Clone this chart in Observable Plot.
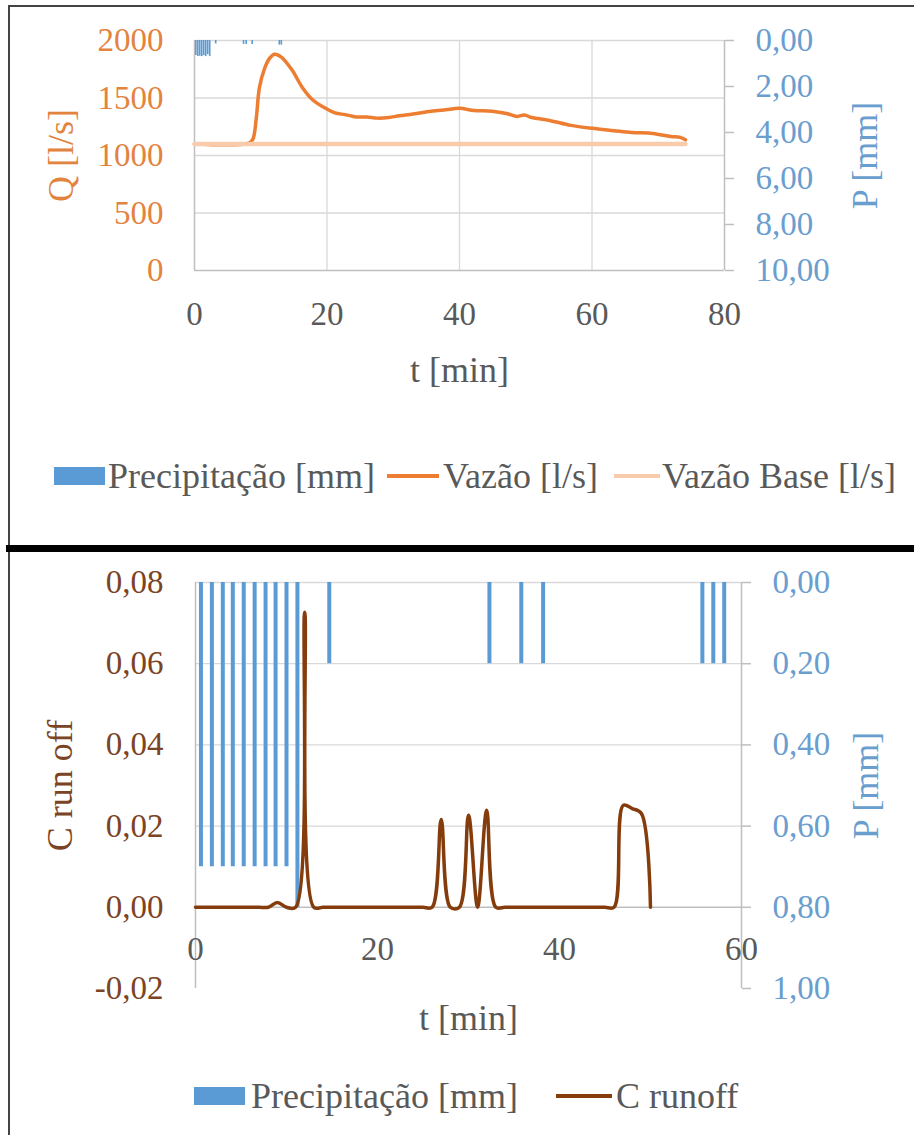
<!DOCTYPE html>
<html>
<head>
<meta charset="utf-8">
<script src="https://cdn.jsdelivr.net/npm/d3@7"></script>
<script src="https://cdn.jsdelivr.net/npm/@observablehq/plot@0.6"></script>
<style>
  body { margin: 0; background: #fff; }
  #wrap { position: relative; width: 914px; height: 1135px; overflow: hidden; background: #fff; font-family: "Liberation Serif", "DejaVu Serif", "Noto Serif", serif; }
  .abs { position: absolute; }
  .leg { position: absolute; height: 40px; display: flex; align-items: center; font-size: 36px; color: #595959; white-space: nowrap; }
  .sw { position: absolute; }
</style>
</head>
<body>
<div id="wrap"></div>
<script>
// ---------- DATA ----------
// Top chart: precipitation bars (t [min], P [mm])
const topPrecipT  = [0.2, 0.5, 0.8, 1.1, 1.4, 1.7, 2.0, 2.3, 3.2, 7.4, 7.8, 8.7, 12.8, 13.1];
const topPrecipMm = [0.65, 0.7, 0.68, 0.7, 0.66, 0.7, 0.62, 0.7, 0.15, 0.17, 0.17, 0.17, 0.2, 0.2];
// Top chart: discharge
const vazaoT = [0, 8.2, 8.8, 9.3, 9.8, 10.6, 11.4, 12.1, 13.1, 14.7, 16.3, 17.9, 19.5, 21.2, 22.8, 24.4, 26.0, 27.6, 29.3, 30.9, 33.0, 35.7, 37.9, 40.0, 42.2, 44.9, 47.1, 48.7, 49.8, 50.9, 53.6, 56.8, 60.0, 63.3, 66.0, 69.2, 71.9, 73.3, 74.1];
const vazaoQ = [1100, 1108, 1140, 1310, 1590, 1760, 1850, 1880, 1855, 1745, 1590, 1480, 1420, 1370, 1355, 1335, 1335, 1325, 1330, 1345, 1360, 1385, 1398, 1410, 1392, 1385, 1365, 1340, 1352, 1330, 1305, 1262, 1236, 1216, 1200, 1192, 1165, 1158, 1136];
// Top chart: base discharge
const baseT = [0, 74.1];
const baseQ = [1100, 1100];
// Top chart ticks
const topXTicks = [0, 20, 40, 60, 80];
const topQTicks = [0, 500, 1000, 1500, 2000];
const topPTicks = [0, 2, 4, 6, 8, 10];

// Bottom chart: precipitation bars
const botPrecipT  = [0.6, 1.8, 3.0, 4.1, 5.3, 6.5, 7.7, 8.8, 10.0, 11.2, 14.7, 32.3, 35.8, 38.2, 55.7, 56.9, 58.1];
const botPrecipMm = [0.7, 0.7, 0.7, 0.7, 0.7, 0.7, 0.7, 0.7, 0.7, 0.8, 0.2, 0.2, 0.2, 0.2, 0.2, 0.2, 0.2];
// Bottom chart: runoff coefficient
const runoffT = [0,1,2,3,4,5,6,7,8,9,10,11,12,13,14,15,16,17,18,19,20,21,22,23,24,25,26,27,28,29,30,31,32,33,34,35,36,37,38,39,40,41,42,43,44,45,46,47,48,49,50];
const runoffC = [0,0,0,0,0,0,0,0,0,0.0012,0,0,0.0727,0,0,0,0,0,0,0,0,0,0,0,0,0,0,0.0216,0,0,0.0227,0,0.0239,0,0,0,0,0,0,0,0,0,0,0,0,0,0,0.0251,0.0243,0.0231,0];
// Bottom chart ticks
const botXTicks = [0, 20, 40, 60];
const botCTicks = [-0.02, 0, 0.02, 0.04, 0.06, 0.08];
const botPTicks = [0, 0.2, 0.4, 0.6, 0.8, 1.0];

// ---------- HELPERS ----------
const FONT = '"Liberation Serif", "DejaVu Serif", "Noto Serif", serif';
const fmt2 = v => (Math.abs(v) < 1e-9 ? 0 : v).toFixed(2).replace(".", ",");
const zip = (a, b, ka, kb) => a.map((v, i) => ({[ka]: v, [kb]: b[i]}));

const topPrecip = zip(topPrecipT, topPrecipMm, "t", "p");
const vazao = zip(vazaoT, vazaoQ, "t", "q");
const base = zip(baseT, baseQ, "t", "q");
const botPrecip = zip(botPrecipT, botPrecipMm, "t", "p");
const runoff = zip(runoffT, runoffC, "t", "c");

// secondary axes mapped onto primary
const pToQ = p => 2000 - 200 * p;
const qToP = q => (2000 - q) / 200;
const pToC = p => 0.08 - 0.1 * p;
const cToP = c => (0.08 - c) / 0.1;

const GRID = "#d9d9d9", AXIS = "#bfbfbf", TXT = "#595959";
const ORANGE = "#ED7D31", PEACH = "#F8CBAD", BLUE = "#5B9BD5", BROWN = "#843C0C";
const ORANGE_TXT = "#E2843F", BLUE_TXT = "#6A9ECF", BROWN_TXT = "#7B4424";

const wrap = document.getElementById("wrap");
function addDiv(cls, style, html) {
  const d = document.createElement("div");
  d.className = cls;
  Object.assign(d.style, style);
  if (html != null) d.innerHTML = html;
  wrap.appendChild(d);
  return d;
}

// ---------- FRAMES ----------
addDiv("abs", {left: "8px", top: "5px", width: "906px", height: "1.5px", background: "#444"});
addDiv("abs", {left: "8px", top: "5px", width: "1.5px", height: "541px", background: "#444"});
addDiv("abs", {left: "6px", top: "545px", width: "908px", height: "7px", background: "#000"});
addDiv("abs", {left: "8px", top: "552px", width: "1.5px", height: "583px", background: "#444"});

// ---------- TOP CHART ----------
const topPlot = Plot.plot({
  width: 914,
  height: 400,
  marginLeft: 194,
  marginRight: 190,
  marginTop: 40,
  marginBottom: 130,
  style: {fontFamily: FONT, fontSize: "33px", color: TXT, background: "transparent", overflow: "visible"},
  x: {domain: [0, 80], axis: null},
  y: {domain: [0, 2000], axis: null},
  marks: [
    Plot.gridX([20, 40, 60], {stroke: GRID, strokeOpacity: 1, strokeWidth: 1.3}),
    Plot.gridY([500, 1000, 1500, 2000], {stroke: GRID, strokeOpacity: 1, strokeWidth: 1.3}),
    Plot.ruleY([0], {stroke: AXIS, strokeWidth: 1.5}),
    Plot.ruleX([0], {stroke: AXIS, strokeWidth: 1.5}),
    Plot.ruleX([80], {stroke: AXIS, strokeWidth: 1.5}),
    Plot.ruleX(topPrecip, {x: "t", y1: () => pToQ(0), y2: d => pToQ(d.p), stroke: BLUE, strokeWidth: 1.6}),
    Plot.line(vazao, {x: "t", y: "q", stroke: ORANGE, strokeWidth: 3.5, curve: "catmull-rom"}),
    Plot.line(base, {x: "t", y: "q", stroke: PEACH, strokeWidth: 4.5}),
    Plot.axisY(topQTicks, {anchor: "left", tickSize: 0, tickPadding: 31, fill: ORANGE_TXT, tickFormat: d => String(d), label: null}),
    Plot.axisY(topPTicks.map(pToQ), {anchor: "right", tickSize: 9, tickPadding: 22, stroke: AXIS, strokeWidth: 1.5, fill: BLUE_TXT, tickFormat: q => fmt2(qToP(q)), label: null}),
    Plot.axisX(topXTicks, {anchor: "bottom", tickSize: 0, tickPadding: 31, fill: TXT, tickFormat: d => String(d), label: null}),
    Plot.text(["t [min]"], {frameAnchor: "bottom", dy: 100, fontSize: 36, fill: TXT, lineAnchor: "middle"}),
    Plot.text(["Q [l/s]"], {frameAnchor: "left", dx: -133, rotate: -90, fontSize: 36, fill: ORANGE_TXT, lineAnchor: "middle", textAnchor: "middle"}),
    Plot.text(["P [mm]"], {frameAnchor: "right", dx: 141, rotate: -90, fontSize: 36, fill: BLUE_TXT, lineAnchor: "middle", textAnchor: "middle"})
  ]
});
topPlot.style.position = "absolute";
topPlot.style.left = "0px";
topPlot.style.top = "0px";
wrap.appendChild(topPlot);

// top legend
addDiv("sw", {left: "54px", top: "467px", width: "51px", height: "18px", background: BLUE});
addDiv("leg", {left: "108px", top: "456px"}, "Precipitação [mm]");
addDiv("sw", {left: "387px", top: "474px", width: "52px", height: "4px", background: ORANGE});
addDiv("leg", {left: "443px", top: "456px"}, "Vazão [l/s]");
addDiv("sw", {left: "614px", top: "474px", width: "46px", height: "4px", background: PEACH});
addDiv("leg", {left: "662px", top: "456px"}, "Vazão Base [l/s]");

// ---------- BOTTOM CHART ----------
const botPlot = Plot.plot({
  width: 914,
  height: 490,
  marginLeft: 195,
  marginRight: 173,
  marginTop: 30,
  marginBottom: 54,
  style: {fontFamily: FONT, fontSize: "33px", color: TXT, background: "transparent", overflow: "visible"},
  x: {domain: [0, 60], axis: null},
  y: {domain: [-0.02, 0.08], axis: null},
  marks: [
    Plot.gridY([0.02, 0.04, 0.06, 0.08], {stroke: GRID, strokeOpacity: 1, strokeWidth: 1.3}),
    Plot.ruleY([0], {stroke: AXIS, strokeWidth: 1.5}),
    Plot.ruleX([0], {stroke: AXIS, strokeWidth: 1.5}),
    Plot.ruleX([60], {stroke: AXIS, strokeWidth: 1.5}),
    Plot.ruleX(botPrecip, {x: "t", y1: () => pToC(0), y2: d => pToC(d.p), stroke: BLUE, strokeWidth: 4}),
    Plot.line(runoff, {x: "t", y: "c", stroke: BROWN, strokeWidth: 3.5, curve: "catmull-rom"}),
    Plot.axisY(botCTicks, {anchor: "left", tickSize: 0, tickPadding: 32, fill: BROWN_TXT, tickFormat: fmt2, label: null}),
    Plot.axisY(botPTicks.map(pToC), {anchor: "right", tickSize: 9, tickPadding: 22, stroke: AXIS, strokeWidth: 1.5, fill: BLUE_TXT, tickFormat: c => fmt2(cToP(c)), label: null}),
    Plot.text(botXTicks, {x: d => d, y: () => 0, dy: 42, text: d => String(d), fill: TXT, lineAnchor: "middle"}),
    Plot.text(["t [min]"], {frameAnchor: "bottom", dy: 30, fontSize: 36, fill: TXT, lineAnchor: "middle"}),
    Plot.text(["C run off"], {frameAnchor: "left", dx: -135, rotate: -90, fontSize: 36, fill: BROWN_TXT, lineAnchor: "middle", textAnchor: "middle"}),
    Plot.text(["P [mm]"], {frameAnchor: "right", dx: 125, rotate: -90, fontSize: 36, fill: BLUE_TXT, lineAnchor: "middle", textAnchor: "middle"})
  ]
});
botPlot.style.position = "absolute";
botPlot.style.left = "0px";
botPlot.style.top = "552px";
wrap.appendChild(botPlot);

// bottom legend
addDiv("sw", {left: "194px", top: "1087px", width: "51px", height: "18px", background: BLUE});
addDiv("leg", {left: "251px", top: "1076px"}, "Precipitação [mm]");
addDiv("sw", {left: "556px", top: "1094px", width: "56px", height: "4px", background: BROWN});
addDiv("leg", {left: "616px", top: "1076px"}, "C runoff");
</script>
</body>
</html>
